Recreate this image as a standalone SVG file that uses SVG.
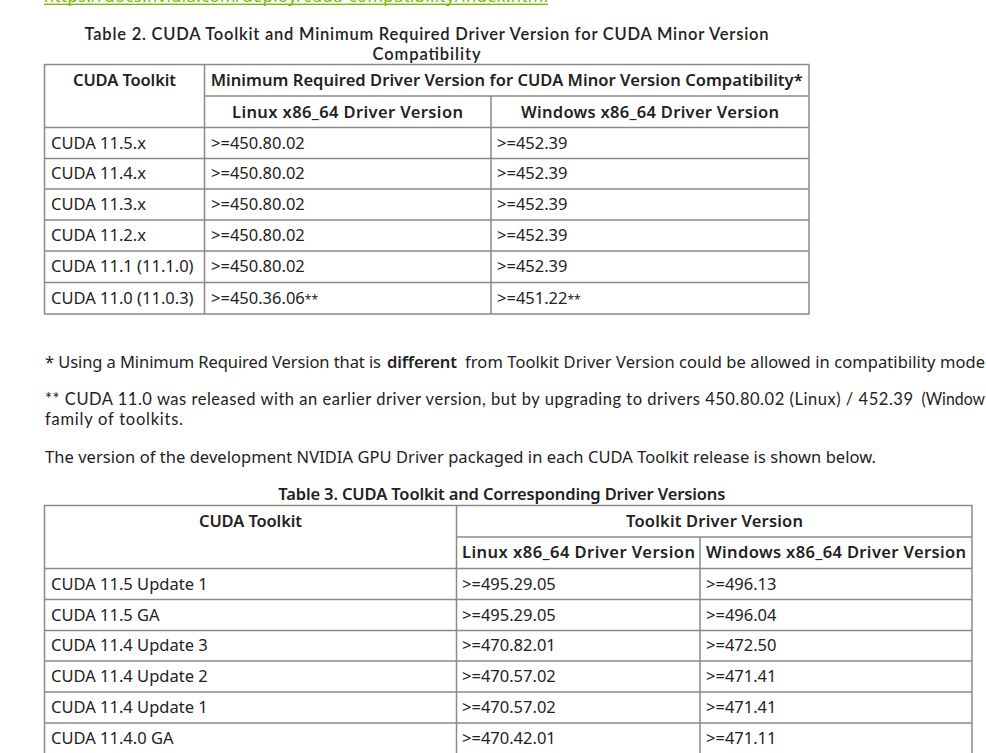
<svg xmlns="http://www.w3.org/2000/svg" width="986" height="753" viewBox="0 0 986 753">
  <style>
    text { font-family: "Noto Sans", "Open Sans", "DejaVu Sans", sans-serif; font-size: 16.5px; fill: #222; }
    .b { font-weight: 600; }
    .c { text-anchor: middle; }
    .tight { font-family: Lato, "Noto Sans", sans-serif; }
    .link { fill: #76b900; }
    .grid { stroke: #8a8a8a; stroke-width: 1.5; fill: none; }
  </style>
  <rect width="986" height="753" fill="#ffffff"/>

  <g id="link">
    <text class="link" x="44" y="1.5" textLength="504" lengthAdjust="spacing">https://docs.nvidia.com/deploy/cuda-compatibility/index.html</text>
    <rect x="44" y="3.6" width="504" height="1.4" fill="#76b900"/>
  </g>

  <g id="table2">
    <text class="b c tight" x="426.5" y="39.5" textLength="684" lengthAdjust="spacing">Table 2. CUDA Toolkit and Minimum Required Driver Version for CUDA Minor Version</text>
    <text class="b c tight" x="426.5" y="59.5" textLength="108" lengthAdjust="spacing">Compatibility</text>
    <g class="grid">
      <rect x="44.5" y="64.5" width="764.5" height="249.5"/>
      <line x1="204.5" y1="64.5" x2="204.5" y2="314"/>
      <line x1="204.5" y1="96" x2="809" y2="96"/>
      <line x1="491" y1="96" x2="491" y2="314"/>
      <line x1="44.5" y1="127.5" x2="809" y2="127.5"/>
      <line x1="44.5" y1="158.5" x2="809" y2="158.5"/>
      <line x1="44.5" y1="189" x2="809" y2="189"/>
      <line x1="44.5" y1="220" x2="809" y2="220"/>
      <line x1="44.5" y1="251" x2="809" y2="251"/>
      <line x1="44.5" y1="282.5" x2="809" y2="282.5"/>
    </g>
    <text class="b c" x="124.5" y="86" textLength="103" lengthAdjust="spacing">CUDA Toolkit</text>
    <text class="b c" x="506.7" y="86" textLength="592" lengthAdjust="spacing">Minimum Required Driver Version for CUDA Minor Version Compatibility*</text>
    <text class="b c" x="347.5" y="117.5" textLength="231" lengthAdjust="spacing">Linux x86_64 Driver Version</text>
    <text class="b c" x="650" y="117.5" textLength="258" lengthAdjust="spacing">Windows x86_64 Driver Version</text>

    <text x="51" y="148.5">CUDA 11.5.x</text>
    <text x="211" y="148.5">&gt;=450.80.02</text>
    <text x="497" y="148.5">&gt;=452.39</text>

    <text x="51" y="179.3">CUDA 11.4.x</text>
    <text x="211" y="179.3">&gt;=450.80.02</text>
    <text x="497" y="179.3">&gt;=452.39</text>

    <text x="51" y="210">CUDA 11.3.x</text>
    <text x="211" y="210">&gt;=450.80.02</text>
    <text x="497" y="210">&gt;=452.39</text>

    <text x="51" y="241">CUDA 11.2.x</text>
    <text x="211" y="241">&gt;=450.80.02</text>
    <text x="497" y="241">&gt;=452.39</text>

    <text x="51" y="272.3">CUDA 11.1 (11.1.0)</text>
    <text x="211" y="272.3">&gt;=450.80.02</text>
    <text x="497" y="272.3">&gt;=452.39</text>

    <text x="51" y="303.8">CUDA 11.0 (11.0.3)</text>
    <text x="211" y="303.8">&gt;=450.36.06<tspan font-size="12">**</tspan></text>
    <text x="497" y="303.8">&gt;=451.22<tspan font-size="12">**</tspan></text>
  </g>

  <g id="notes">
    <text x="45" y="368" textLength="336" lengthAdjust="spacing">* Using a Minimum Required Version that is</text>
    <text class="b" x="387" y="368" textLength="70" lengthAdjust="spacing">different</text>
    <text x="465" y="368" textLength="520" lengthAdjust="spacing">from Toolkit Driver Version could be allowed in compatibility mode</text>
    <text class="tight" x="45" y="404.5" textLength="868" lengthAdjust="spacing">** CUDA 11.0 was released with an earlier driver version, but by upgrading to drivers 450.80.02 (Linux) / 452.39</text>
    <text class="tight" x="921.5" y="404.5" textLength="63.5" lengthAdjust="spacingAndGlyphs">(Window</text>
    <text class="tight" x="45" y="425" textLength="138" lengthAdjust="spacing">family of toolkits.</text>
    <text x="45" y="463" textLength="831" lengthAdjust="spacing">The version of the development NVIDIA GPU Driver packaged in each CUDA Toolkit release is shown below.</text>
  </g>

  <g id="table3">
    <text class="b" x="278.3" y="500" textLength="447" lengthAdjust="spacing">Table 3. CUDA Toolkit and Corresponding Driver Versions</text>
    <g class="grid">
      <polyline points="44.5,760 44.5,505.5 972,505.5 972,760"/>
      <line x1="456.5" y1="505.5" x2="456.5" y2="760"/>
      <line x1="456.5" y1="537" x2="972" y2="537"/>
      <line x1="700" y1="537" x2="700" y2="760"/>
      <line x1="44.5" y1="568.5" x2="972" y2="568.5"/>
      <line x1="44.5" y1="599.5" x2="972" y2="599.5"/>
      <line x1="44.5" y1="630.5" x2="972" y2="630.5"/>
      <line x1="44.5" y1="661" x2="972" y2="661"/>
      <line x1="44.5" y1="692" x2="972" y2="692"/>
      <line x1="44.5" y1="723" x2="972" y2="723"/>
    </g>
    <text class="b c" x="250.5" y="527" textLength="103" lengthAdjust="spacing">CUDA Toolkit</text>
    <text class="b c" x="714.5" y="527" textLength="177" lengthAdjust="spacing">Toolkit Driver Version</text>
    <text class="b c" x="578.5" y="558.3" textLength="233" lengthAdjust="spacing">Linux x86_64 Driver Version</text>
    <text class="b c" x="836" y="558.3" textLength="260" lengthAdjust="spacing">Windows x86_64 Driver Version</text>

    <text x="51" y="589.5">CUDA 11.5 Update 1</text>
    <text x="462" y="589.5">&gt;=495.29.05</text>
    <text x="706" y="589.5">&gt;=496.13</text>

    <text x="51" y="620.5">CUDA 11.5 GA</text>
    <text x="462" y="620.5">&gt;=495.29.05</text>
    <text x="706" y="620.5">&gt;=496.04</text>

    <text x="51" y="651.3">CUDA 11.4 Update 3</text>
    <text x="462" y="651.3">&gt;=470.82.01</text>
    <text x="706" y="651.3">&gt;=472.50</text>

    <text x="51" y="682">CUDA 11.4 Update 2</text>
    <text x="462" y="682">&gt;=470.57.02</text>
    <text x="706" y="682">&gt;=471.41</text>

    <text x="51" y="713">CUDA 11.4 Update 1</text>
    <text x="462" y="713">&gt;=470.57.02</text>
    <text x="706" y="713">&gt;=471.41</text>

    <text x="51" y="744">CUDA 11.4.0 GA</text>
    <text x="462" y="744">&gt;=470.42.01</text>
    <text x="706" y="744">&gt;=471.11</text>
  </g>
</svg>
